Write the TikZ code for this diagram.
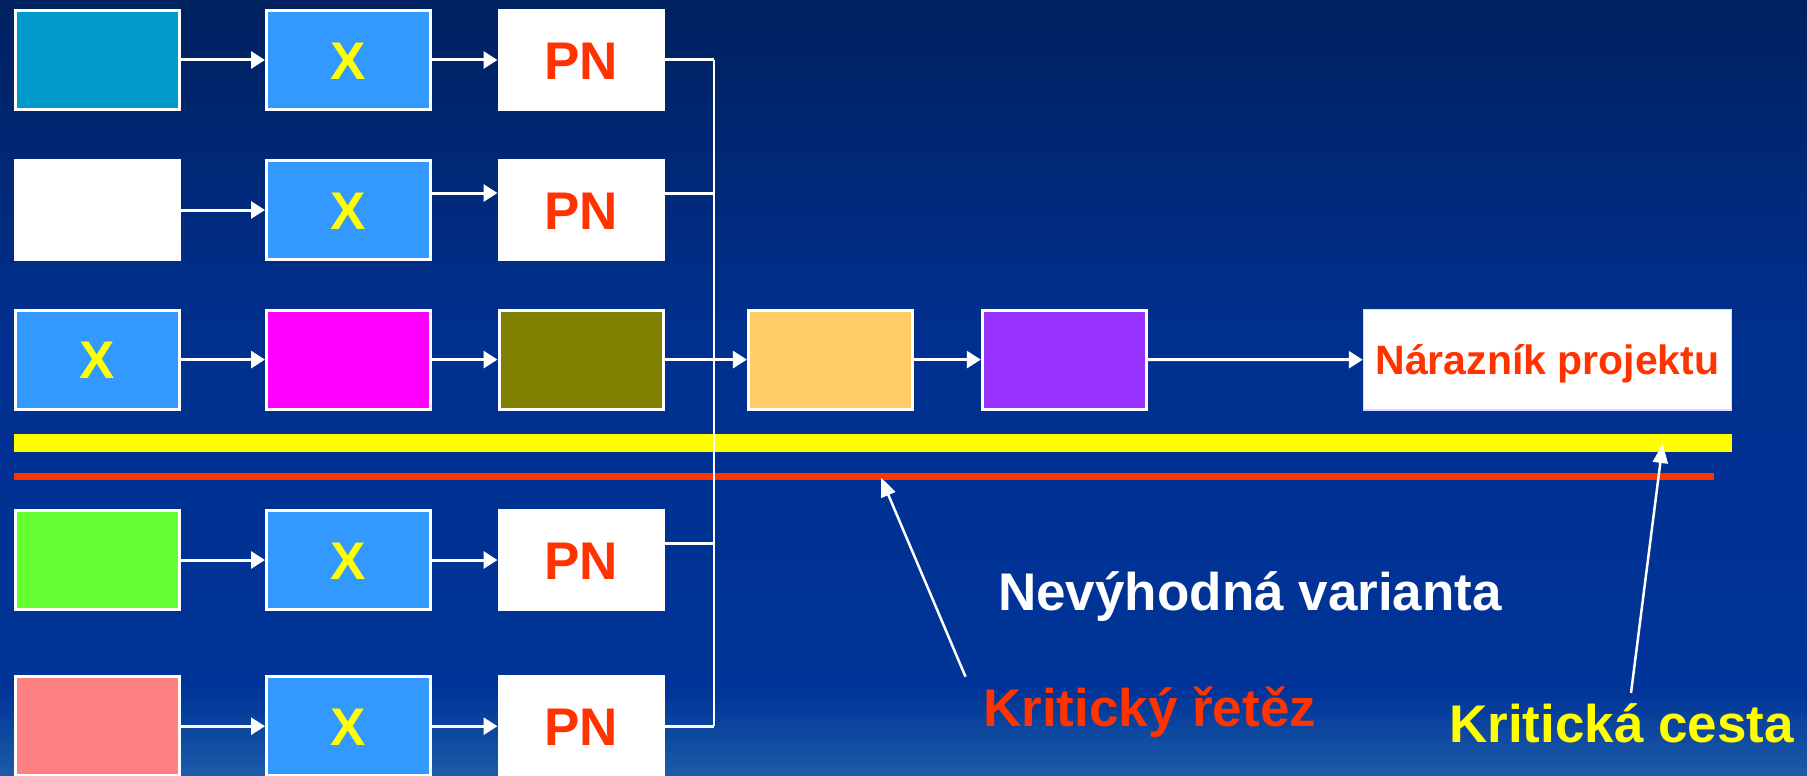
\documentclass[tikz,border=0pt]{standalone}
\usepackage{fontspec}
\setmainfont{Liberation Sans}
\usetikzlibrary{arrows.meta}
\definecolor{bgA}{HTML}{00215F}
\definecolor{bgB}{HTML}{00308F}
\definecolor{bgC}{HTML}{003498}
\definecolor{bgD}{HTML}{1B5CA8}
\definecolor{cTeal}{HTML}{0099CC}
\definecolor{cBlue}{HTML}{3399FF}
\definecolor{cMag}{HTML}{FF00FF}
\definecolor{cOlive}{HTML}{808000}
\definecolor{cOrange}{HTML}{FFCC66}
\definecolor{cPurple}{HTML}{9933FF}
\definecolor{cGreen}{HTML}{66FF33}
\definecolor{cPink}{HTML}{FF8080}
\definecolor{cRed}{HTML}{FF3300}
\definecolor{cYellow}{HTML}{FFFF00}
\begin{document}
\begin{tikzpicture}[x=1pt,y=-1pt,
  box/.style={draw=white, line width=3pt, minimum width=164pt, minimum height=99pt,
    inner sep=0pt, text height=38pt, text depth=0pt,
    font=\fontsize{53}{60}\selectfont\bfseries},
  xbox/.style={box, fill=cBlue, text=cYellow},
  pnbox/.style={box, fill=white, text=cRed},
  conn/.style={draw=white, line width=3pt, -{Triangle[length=14pt,width=17pt]}},
  stub/.style={draw=white, line width=3pt},
  busline/.style={draw=white, line width=2pt},
  pointer/.style={draw=white, line width=2.5pt, -{Triangle[length=19pt,width=15pt]}},
  txt/.style={inner sep=0pt, anchor=base west, font=\fontsize{53}{60}\selectfont\bfseries}
]
\useasboundingbox (0,0) rectangle (1807,776);
% background
\shade[top color=bgA, bottom color=bgB] (0,0) rectangle (1807,340);
\shade[top color=bgB, bottom color=bgC] (0,339.5) rectangle (1807,690);
\shade[top color=bgC, bottom color=bgD] (0,689.5) rectangle (1807,776);

% bars
\fill[cYellow] (13.8,434) rectangle (1732,452);
\fill[cRed] (13.8,473) rectangle (1714,480);

% row 1
\node[box, fill=cTeal] (r1c1) at (97.4,60) {};
\node[xbox] (r1c2) at (348.5,60) {X};
\node[pnbox] (r1c3) at (581,60) {PN};
% row 2
\node[box, fill=white] (r2c1) at (97.4,210) {};
\node[xbox] (r2c2) at (348.5,210) {X};
\node[pnbox] (r2c3) at (581,210) {PN};
% row 3
\node[xbox] (r3c1) at (97.4,359.6) {X};
\node[box, fill=cMag] (r3c2) at (348.5,359.6) {};
\node[box, fill=cOlive] (r3c3) at (581,359.6) {};
\node[box, fill=cOrange] (r3c4) at (830.4,359.6) {};
\node[box, fill=cPurple] (r3c5) at (1064.3,359.6) {};
\node[box, fill=white, line width=1.5pt, draw=white!85!blue, minimum width=368pt, minimum height=100.5pt,
  text=cRed, text height=29.4pt, font=\fontsize{41}{48}\selectfont\bfseries] (buf) at (1547.5,359.8) {Nárazník projektu};
% row 4
\node[box, fill=cGreen] (r4c1) at (97.4,560) {};
\node[xbox] (r4c2) at (348.5,560) {X};
\node[pnbox] (r4c3) at (581,560) {PN};
% row 5
\node[box, fill=cPink] (r5c1) at (97.4,726.2) {};
\node[xbox] (r5c2) at (348.5,726.2) {X};
\node[pnbox] (r5c3) at (581,726.2) {PN};

% row connectors
\draw[conn] (r1c1) -- (r1c2);
\draw[conn] (r1c2) -- (r1c3);
\draw[conn] (r2c1) -- (r2c2);
\draw[conn] (r2c2.east |- 0,193) -- (r2c3.west |- 0,193);
\draw[conn] (r3c1) -- (r3c2);
\draw[conn] (r3c2) -- (r3c3);
\draw[conn] (r4c1) -- (r4c2);
\draw[conn] (r4c2) -- (r4c3);
\draw[conn] (r5c1) -- (r5c2);
\draw[conn] (r5c2) -- (r5c3);

% merge bus
\coordinate (b1) at (714,60);
\coordinate (b2) at (714,193);
\coordinate (b4) at (714,543);
\coordinate (b5) at (714,726.2);
\draw[busline] (b1) -- (b5);
\draw[stub] (r1c3.east) -- (b1);
\draw[stub] (r2c3.east |- b2) -- (b2);
\draw[stub] (r4c3.east |- b4) -- (b4);
\draw[stub] (r5c3.east) -- (b5);

% main chain
\draw[conn] (r3c3) -- (r3c4);
\draw[conn] (r3c4) -- (r3c5);
\draw[conn] (r3c5) -- (buf);

% labels
\node[txt, text=white] (nev) at (998,610) {Nevýhodná varianta};
\node[txt, text=cRed] (kret) at (983,726) {Kritický řetěz};
\node[txt, text=cYellow] (kces) at (1449,742.6) {Kritická cesta};

% pointers
\coordinate (krs) at (965.5,676.7);
\coordinate (krt) at (881,477.5);
\coordinate (kcs) at (1631,693);
\coordinate (kct) at (1662.7,444);
\draw[pointer] (krs) -- (krt);
\draw[pointer] (kcs) -- (kct);
\end{tikzpicture}
\end{document}
